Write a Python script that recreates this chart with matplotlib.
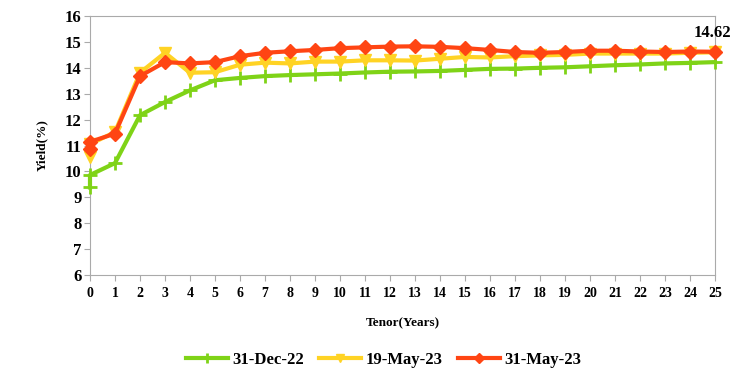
import matplotlib
matplotlib.use('Agg')
import matplotlib.pyplot as plt

# tenor in years (first two points are short bills, both plotted at 0)
tenor = [0, 0] + list(range(1, 26))

dec22 = [9.38, 9.86, 10.32, 12.17, 12.68, 13.13, 13.52, 13.61, 13.68, 13.72,
         13.75, 13.78, 13.82, 13.85, 13.86, 13.88, 13.92, 13.96, 13.97, 14.00,
         14.02, 14.06, 14.10, 14.13, 14.17, 14.19, 14.22]
may19 = [10.54, 11.05, 11.52, 13.81, 14.58, 13.81, 13.83, 14.12, 14.20, 14.17,
         14.24, 14.24, 14.29, 14.29, 14.28, 14.35, 14.42, 14.40, 14.45, 14.48,
         14.50, 14.55, 14.55, 14.55, 14.55, 14.58, 14.60]
may31 = [10.86, 11.14, 11.46, 13.68, 14.22, 14.17, 14.22, 14.45, 14.58, 14.64,
         14.69, 14.76, 14.79, 14.82, 14.83, 14.81, 14.76, 14.69, 14.61, 14.58,
         14.61, 14.66, 14.66, 14.63, 14.61, 14.63, 14.62]

plt.rcParams['font.family'] = ['Liberation Serif', 'DejaVu Serif']
plt.rcParams['font.weight'] = 'bold'

fig = plt.figure(figsize=(7.37, 3.9), dpi=100)
ax = fig.add_axes([0.1221, 0.2949, 0.848, 0.664])

ax.plot(tenor, dec22, color='#7fd317', lw=3, marker='+', ms=10, mew=2,
        label='31-Dec-22', zorder=3, clip_on=False)
ax.plot(tenor, may19, color='#ffd324', lw=3, marker='v', ms=9,
        label='19-May-23', zorder=4, clip_on=False)
ax.plot(tenor, may31, color='#ff4513', lw=3, marker='D', ms=7,
        label='31-May-23', zorder=5, clip_on=False)

ax.annotate(f'{may31[-1]:.2f}', (tenor[-1], may31[-1]), xytext=(-2, 8),
            textcoords='offset points', ha='center', va='bottom',
            fontsize=12, fontweight='bold')

ax.set_xlim(0, 25)
ax.set_ylim(6, 16)
ax.set_xticks(range(0, 26))
ax.set_yticks(range(6, 17))
ax.tick_params(axis='x', labelsize=10, length=4, color='#aaaaaa', pad=5)
ax.tick_params(axis='y', labelsize=12, length=4, color='#aaaaaa', pad=2)
for s in ax.spines.values():
    s.set_color('#aaaaaa')

ax.set_xlabel('Tenor(Years)', fontsize=9.5, fontweight='bold', labelpad=12)
ax.set_ylabel('Yield(%)', fontsize=9.5, fontweight='bold', labelpad=12)

ax.legend(loc='upper center', bbox_to_anchor=(0.47, -0.24), ncol=3,
          frameon=False, handlelength=2.5, columnspacing=0.9,
          handletextpad=0.3, markerscale=0.7,
          prop={'weight': 'bold', 'size': 12})

fig.savefig('out.png', dpi=100)
